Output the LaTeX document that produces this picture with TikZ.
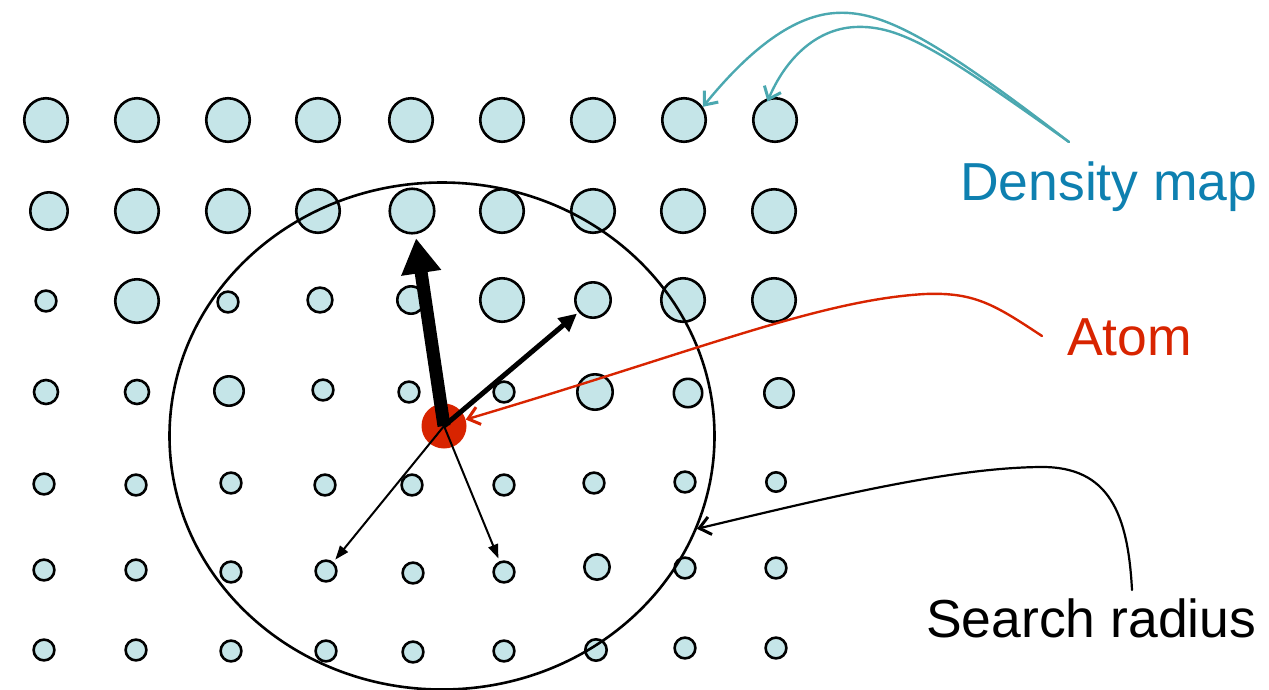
\documentclass[tikz,border=0pt]{standalone}
\usepackage{fontspec}
\setmainfont{Liberation Sans}
\usetikzlibrary{arrows.meta,shapes.geometric}
\definecolor{dotfill}{RGB}{197,229,232}
\definecolor{callteal}{RGB}{75,168,176}
\definecolor{densblue}{RGB}{14,128,176}
\definecolor{atomred}{RGB}{216,36,0}

\begin{document}
\begin{tikzpicture}[x=1pt,y=-1pt,
  dot/.style={circle,draw=black,fill=dotfill,line width=2.6pt,inner sep=0pt,minimum size=#1pt},
  vec/.style={draw=black,line width=#1},
  callout/.style={line width=2.4pt,line cap=round,
    -{Straight Barb[length=11pt,width=18pt,line width=3pt]}},
  label/.style={anchor=base west,inner sep=0pt,font=\fontsize{53.5pt}{62pt}\selectfont}]
\useasboundingbox (0,0) rectangle (1269,689);

% density grid: name / x / y / diameter
\foreach \n/\x/\y/\d in {
  11/46/120/43.5, 12/137/120/43.5, 13/228/120/43.5, 14/318/120/43.5, 15/411/120/43.5,
  16/502/120/43.5, 17/593/120/43.5, 18/684/120/43.5, 19/775/120/43.5,
  21/49/211/37.4, 22/137/211/43.5, 23/228/211/43.5, 24/318/211/43.5, 25/412/211/44.5,
  26/502/211/43.5, 27/593/211/43.5, 28/683/211/43.5, 29/774/211/43.5,
  31/46/301/20.8, 32/137/301/43.5, 33/228/302/20.8, 34/320/300/24.8, 35/411/300/27.4,
  36/502/300/43.5, 37/593/300/35.4, 38/683/300/43.5, 39/774/300/43.5,
  41/46/392/24, 42/137/392/24, 43/229/391/29.4, 44/323/390/20.8, 45/409/392/20.8,
  46/504/392/20.8, 47/595/392/35.4, 48/688/393/28.4, 49/779/393/29.4,
  51/44/484/20.8, 52/136/485/20.8, 53/231/483/20.8, 54/325/485/20.8, 55/412/485/20.8,
  56/504/485/20.8, 57/594/483/20.8, 58/685/482/20.8, 59/776/482/19.4,
  61/44/570/20.8, 62/136/570/20.8, 63/231/572/20.8, 64/326/571/20.8, 65/413/573/20.8,
  66/504/572/20.8, 67/597/567/25.4, 68/685/568/20.8, 69/776/568/20.8,
  71/44/650/20.8, 72/136/650/20.8, 73/231/651/20.8, 74/326/651/20.8, 75/413/652/20.8,
  76/504/651/20.8, 77/596/650/21.4, 78/685/648/20.8, 79/776/648/20.8}
  \node[dot=\d] (g\n) at (\x,\y) {};

% search radius around the atom
\node[ellipse,draw=black,line width=2.6pt,inner sep=0pt,
      minimum width=545pt,minimum height=507pt] (radius) at (442,436) {};

% the atom
\node[circle,fill=atomred,inner sep=0pt,minimum size=45pt] (atom) at (444,426) {};

% vectors from the atom to neighbouring grid points
\draw[vec=13pt,-{Triangle[length=35pt,width=38pt]},shorten >=4pt] (atom.center) -- (g25);
\draw[vec=5pt,-{Triangle[length=18pt,width=17pt]},shorten >=2pt] (atom.center) -- (g37);
\draw[vec=2pt,-{Triangle[length=14pt,width=10pt]},shorten >=3pt] (atom.center) -- (g64);
\draw[vec=2pt,-{Triangle[length=14pt,width=10pt]},shorten >=3pt] (atom.center) -- (g66);

% labels
\node[label,text=densblue] (dmlabel) at (960,200) {Density map};
\node[label,text=atomred] (atomlabel) at (1067,355) {Atom};
\node[label,text=black] (srlabel) at (926,637) {Search radius};

% callout lines
\coordinate (dmtail) at (1069,142);
\coordinate (atomtail) at (1042,336);
\coordinate (srtail) at (1132,590);

\draw[callout,callteal] (dmtail) .. controls (930,35) and (880,10) .. (835,13)
  .. controls (790,16) and (745,55) .. (g18.35);
\draw[callout,callteal,shorten >=-4pt] (dmtail) .. controls (940,50) and (900,25) .. (855,27)
  .. controls (815,29) and (785,60) .. (g19.105);
\draw[callout,atomred] (atomtail) .. controls (995,305) and (975,292) .. (925,294)
  .. controls (820,300) and (700,350) .. (atom);
\draw[callout,black,line width=2.2pt] (srtail) .. controls (1128,515) and (1110,466) .. (1040,467)
  .. controls (950,468) and (830,497) .. (radius.-20);
\end{tikzpicture}
\end{document}
